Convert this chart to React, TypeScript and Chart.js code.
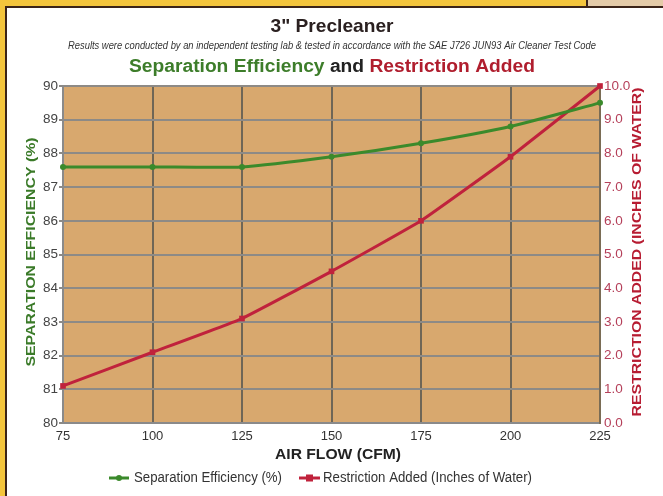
import React, { useEffect, useRef } from "react";
import { Chart, registerables } from "chart.js";

Chart.register(...registerables);

const airFlow = [75, 100, 125, 150, 175, 200, 225];
const separationEfficiency = [87.6, 87.6, 87.6, 87.9, 88.3, 88.8, 89.5];
const restrictionAdded = [1.1, 2.1, 3.1, 4.5, 6.0, 7.9, 10.0];

const titleText = '3" Precleaner';
const subtitleText =
  "Results were conducted by an independent testing lab & tested in accordance with the SAE J726 JUN93 Air Cleaner Test Code";
const titlePartA = "Separation Efficiency";
const titlePartB = " and ";
const titlePartC = "Restriction Added";
const xTitle = "AIR FLOW (CFM)";
const yLeftTitle = "SEPARATION EFFICIENCY (%)";
const yRightTitle = "RESTRICTION ADDED (INCHES OF WATER)";
const legendLabels = ["Separation Efficiency (%)", "Restriction Added (Inches of Water)"];

const GREEN = "#3b8a2b";
const RED = "#c0223c";
const FAM = '"Liberation Sans Narrow", "Liberation Sans", Arial, sans-serif';
const FAMW = '"Liberation Sans", Arial, sans-serif';

// draw text centred at (cx, cy) stretched/compressed horizontally to a target width
function drawFit(ctx: CanvasRenderingContext2D, text: string, cx: number, cy: number, target: number) {
  const w = ctx.measureText(text).width;
  const k = target / w;
  ctx.save();
  ctx.translate(cx, cy);
  ctx.scale(k, 1);
  ctx.textAlign = "center";
  ctx.textBaseline = "middle";
  ctx.fillText(text, 0, 0);
  ctx.restore();
}

const decor = {
  id: "decor",
  beforeDraw(chart: any) {
    const { ctx, chartArea: ca, width, height } = chart;
    ctx.save();
    ctx.fillStyle = "#ffffff";
    ctx.fillRect(0, 0, width, height);
    ctx.fillStyle = "#f4c53c";
    ctx.fillRect(0, 0, 586, 6);
    ctx.fillRect(0, 0, 5, height);
    ctx.fillStyle = "#e4cba8";
    ctx.fillRect(588, 0, width - 588, 6);
    ctx.fillStyle = "#3b2418";
    ctx.fillRect(5, 6, width - 5, 2);
    ctx.fillRect(5, 6, 2, height - 6);
    ctx.fillRect(586, 0, 2, 7);
    ctx.fillStyle = "#d8a86e";
    ctx.fillRect(ca.left, ca.top, ca.right - ca.left, ca.bottom - ca.top);
    ctx.restore();
  },
  afterDraw(chart: any) {
    const { ctx } = chart;
    ctx.save();
    ctx.textBaseline = "middle";
    ctx.textAlign = "center";
    // main title
    ctx.fillStyle = "#2a2020";
    ctx.font = `bold 19px ${FAMW}`;
    drawFit(ctx, titleText, 332, 27, 123);
    // subtitle
    ctx.fillStyle = "#333333";
    ctx.font = `italic 10px ${FAMW}`;
    drawFit(ctx, subtitleText, 332, 46, 528);
    // coloured title
    ctx.font = `bold 18px ${FAMW}`;
    const wA = ctx.measureText(titlePartA).width;
    const wB = ctx.measureText(titlePartB).width;
    const wC = ctx.measureText(titlePartC).width;
    const total = wA + wB + wC;
    const k = 406 / total;
    let x = 332 - (total * k) / 2;
    ctx.fillStyle = "#3d7d2a";
    drawFit(ctx, titlePartA, x + (wA * k) / 2, 67, wA * k);
    x += wA * k;
    ctx.fillStyle = "#222222";
    drawFit(ctx, titlePartB, x + (wB * k) / 2, 67, wB * k);
    x += wB * k;
    ctx.fillStyle = "#b01e2e";
    drawFit(ctx, titlePartC, x + (wC * k) / 2, 67, wC * k);
    // axis titles
    ctx.fillStyle = "#222222";
    ctx.font = `bold 15px ${FAMW}`;
    drawFit(ctx, xTitle, 338, 455, 126);
    ctx.save();
    ctx.translate(31, 252);
    ctx.rotate(-Math.PI / 2);
    ctx.fillStyle = "#3a7a28";
    ctx.font = `bold 13px ${FAMW}`;
    drawFit(ctx, yLeftTitle, 0, 0, 229);
    ctx.restore();
    ctx.save();
    ctx.translate(637.5, 252);
    ctx.rotate(-Math.PI / 2);
    ctx.fillStyle = "#b71c32";
    ctx.font = `bold 13.5px ${FAMW}`;
    drawFit(ctx, yRightTitle, 0, 0, 329);
    ctx.restore();
    // legend
    const ly = 478;
    ctx.lineWidth = 3;
    ctx.strokeStyle = GREEN;
    ctx.beginPath();
    ctx.moveTo(109, ly);
    ctx.lineTo(129, ly);
    ctx.stroke();
    ctx.fillStyle = GREEN;
    ctx.beginPath();
    ctx.arc(119, ly, 3, 0, Math.PI * 2);
    ctx.fill();
    ctx.strokeStyle = RED;
    ctx.beginPath();
    ctx.moveTo(299, ly);
    ctx.lineTo(320, ly);
    ctx.stroke();
    ctx.fillStyle = RED;
    ctx.fillRect(306, ly - 3.5, 7, 7);
    ctx.fillStyle = "#333333";
    ctx.font = `14px ${FAMW}`;
    drawFit(ctx, legendLabels[0], 134 + 148 / 2, ly, 148);
    drawFit(ctx, legendLabels[1], 323 + 209 / 2, ly, 209);
    ctx.restore();
  },
};

export default function App() {
  const ref = useRef<HTMLCanvasElement | null>(null);
  useEffect(() => {
    if (!ref.current) return;
    const chart = new Chart(ref.current, {
      type: "line",
      data: {
        datasets: [
          {
            label: legendLabels[0],
            data: airFlow.map((x, i) => ({ x, y: separationEfficiency[i] })),
            yAxisID: "y",
            borderColor: GREEN,
            backgroundColor: GREEN,
            borderWidth: 3,
            pointRadius: 3,
            pointStyle: "circle",
            pointBorderWidth: 0,
            tension: 0.2,
            clip: false as any,
          },
          {
            label: legendLabels[1],
            data: airFlow.map((x, i) => ({ x, y: restrictionAdded[i] })),
            yAxisID: "y1",
            borderColor: RED,
            backgroundColor: RED,
            borderWidth: 3,
            pointRadius: 4,
            pointStyle: "rect",
            pointBorderWidth: 0,
            tension: 0.1,
            clip: false as any,
          },
        ],
      },
      options: {
        responsive: false,
        animation: false,
        devicePixelRatio: 1,
        layout: { padding: { top: 86, left: 0, right: 0, bottom: 28 } },
        plugins: { legend: { display: false }, title: { display: false }, tooltip: { enabled: false } },
        scales: {
          x: {
            type: "linear",
            min: 75,
            max: 225,
            afterFit: (s: any) => {
              s.height = 45;
            },
            ticks: {
              stepSize: 25,
              padding: 6,
              color: "#333333",
              font: { family: FAMW, size: 13 },
              callback: (v: any) => String(v),
            },
            grid: { color: "#6f6656", lineWidth: 2, drawTicks: false },
            border: { color: "#8a8a8a", width: 2 },
          },
          y: {
            position: "left",
            min: 80,
            max: 90,
            afterFit: (s: any) => {
              s.width = 63;
            },
            ticks: {
              stepSize: 1,
              padding: 1,
              color: "#444444",
              font: { family: FAMW, size: 13.5 },
            },
            grid: { color: "#8d8a86", lineWidth: 2, tickLength: 4 },
            border: { color: "#8a8a8a", width: 2 },
          },
          y1: {
            position: "right",
            min: 0,
            max: 10,
            afterFit: (s: any) => {
              s.width = 63;
            },
            ticks: {
              stepSize: 1,
              padding: 4,
              color: "#b5405a",
              font: { family: FAMW, size: 13.5 },
              callback: (v: any) => Number(v).toFixed(1),
            },
            grid: { drawOnChartArea: false, drawTicks: false },
            border: { color: "#7a6c55", width: 2 },
          },
        },
      },
      plugins: [decor],
    });
    return () => chart.destroy();
  }, []);
  return (
    <div style={{ position: "fixed", left: 0, top: 0, width: 663, height: 496 }}>
      <canvas ref={ref} width={663} height={496} style={{ display: "block" }} />
    </div>
  );
}
